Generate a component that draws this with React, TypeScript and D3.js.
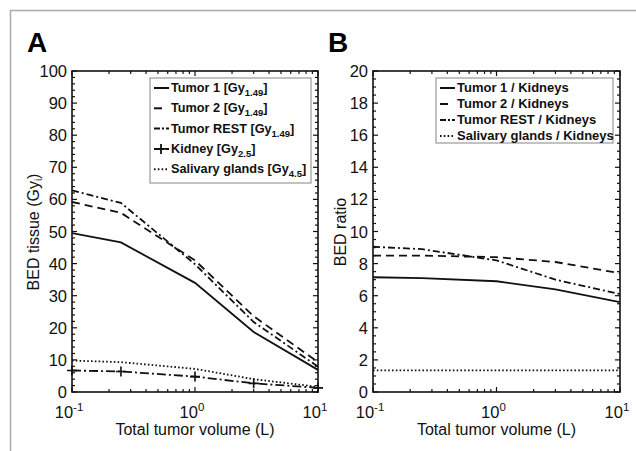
import React from 'react';
import * as d3 from 'd3';

// volumes (L) at which the curves were computed
const volumes = [0.1, 0.25, 1, 3, 10];

// panel A: BED per tissue (Gy_i)
const tumor1Bed = [49.5, 46.6, 34, 18.7, 6.9];
const tumor2Bed = [59.2, 55.8, 41, 23.6, 9.3];
const tumorRestBed = [62.8, 58.9, 39.8, 21.8, 7.9];
const kidneyBed = [6.7, 6.4, 4.8, 2.7, 1.3];
const salivaryBed = [9.8, 9.3, 7.2, 4.0, 1.6];

// panel B: ratio to kidneys
const tumor1Ratio = [7.15, 7.1, 6.9, 6.4, 5.6];
const tumor2Ratio = [8.5, 8.5, 8.4, 8.1, 7.4];
const tumorRestRatio = [9.05, 8.9, 8.2, 7.0, 6.1];
const salivaryRatio = [1.35, 1.35, 1.35, 1.35, 1.35];

const labelsA = ['Tumor 1 [Gy', 'Tumor 2 [Gy', 'Tumor REST [Gy', 'Kidney [Gy', 'Salivary glands [Gy'];
const subsA = ['1.49', '1.49', '1.49', '2.5', '4.5'];
const labelsB = ['Tumor 1 / Kidneys', 'Tumor 2 / Kidneys', 'Tumor REST / Kidneys', 'Salivary glands / Kidneys'];

const FONT = '"Liberation Sans", Arial, Helvetica, sans-serif';

const styles = {
  solid: 'none',
  dashed: '8,5',
  dashdot: '7,3,2,3',
  kidney: '9,3,2,3',
  dotted: '1.6,2.2',
};

type Series = { values: number[]; dash: string; plus?: boolean };

const Panel = ({ left, right, top, bottom, yMax, yStep, yMinor, letter, yLabel, series }: any) => {
  const x = d3.scaleLog().domain([0.1, 10]).range([left, right]);
  const y = d3.scaleLinear().domain([0, yMax]).range([bottom, top]);
  const line = d3.line<number>().x((_, i) => x(volumes[i])).y(d => y(d));

  const xTicks = x.ticks();
  const yMajor = d3.range(0, yMax + 0.001, yStep);
  const yMinorTicks = d3.range(0, yMax + 0.001, yMinor);
  const isMajor = (v: number) => Math.abs(Math.log10(v) - Math.round(Math.log10(v))) < 1e-6;

  return (
    <g fontFamily={FONT}>
      <text x={left - 45} y={52} fontSize={28} fontWeight="bold">{letter}</text>
      <defs>
        <clipPath id={'clip' + letter}>
          <rect x={left} y={top} width={right - left} height={bottom - top} />
        </clipPath>
      </defs>
      {series.map((s: Series, k: number) => (
        <g key={k}>
          <path d={line(s.values) || ''} fill="none" stroke="#111" strokeWidth={1.8}
            strokeDasharray={s.dash} clipPath={`url(#clip${letter})`} />
          {s.plus && s.values.map((v, i) => (
            <path key={i} d={`M${x(volumes[i]) - 5},${y(v)}h10M${x(volumes[i])},${y(v) - 5}v10`}
              stroke="#111" strokeWidth={1.6} />
          ))}
        </g>
      ))}
      {/* axis box */}
      <rect x={left} y={top} width={right - left} height={bottom - top} fill="none" stroke="#111" strokeWidth={1.6} />
      {xTicks.map((t, i) => {
        const len = isMajor(t) ? 5 : 3;
        return (
          <g key={i}>
            <line x1={x(t)} x2={x(t)} y1={bottom} y2={bottom - len} stroke="#111" strokeWidth={1.2} />
            <line x1={x(t)} x2={x(t)} y1={top} y2={top + len} stroke="#111" strokeWidth={1.2} />
          </g>
        );
      })}
      {yMinorTicks.map((t, i) => {
        const major = Math.abs(t / yStep - Math.round(t / yStep)) < 1e-6;
        const len = major ? 5 : 3;
        return (
          <g key={i}>
            <line x1={left} x2={left + len} y1={y(t)} y2={y(t)} stroke="#111" strokeWidth={1.2} />
            <line x1={right} x2={right - len} y1={y(t)} y2={y(t)} stroke="#111" strokeWidth={1.2} />
          </g>
        );
      })}
      {yMajor.map((t, i) => (
        <text key={i} x={left - 5} y={y(t) + 6} fontSize={16.5} textAnchor="end" fill="#111">{d3.format('d')(t)}</text>
      ))}
      {xTicks.filter(isMajor).map((t, i) => (
        <text key={i} x={x(t) - 3} y={418} fontSize={16.5} textAnchor="middle" fill="#111">
          10<tspan fontSize={11.5} dy={-7}>{Math.round(Math.log10(t))}</tspan>
        </text>
      ))}
      <text x={(left + right) / 2} y={435} fontSize={16} textAnchor="middle" fill="#111">Total tumor volume (L)</text>
      {yLabel}
    </g>
  );
};

const Legend = ({ x0, y0, w, h, rows, rowGap, firstBase, entries }: any) => (
  <g fontFamily={FONT}>
    <rect x={x0} y={y0} width={w} height={h} fill="#fff" stroke="#999" strokeWidth={1.2} />
    {entries.map((e: any, i: number) => {
      const base = firstBase + i * rowGap;
      const ly = base - 4;
      return (
        <g key={i}>
          {e.dash === styles.dashed ? (
            <line x1={x0 + 4} x2={x0 + 12} y1={ly} y2={ly} stroke="#111" strokeWidth={2} />
          ) : (
            <line x1={x0 + 4} x2={x0 + 19} y1={ly} y2={ly} stroke="#111" strokeWidth={2}
              strokeDasharray={e.dash === styles.dashdot || e.dash === styles.kidney ? '6,2,2,2' : e.dash} />
          )}
          {e.plus && <path d={`M${x0 + 6},${ly}h10M${x0 + 11},${ly - 5}v10`} stroke="#111" strokeWidth={1.8} />}
          <text x={x0 + 21} y={base} fontSize={rows} fontWeight="bold" fill="#111">
            {e.label}
            {e.sub && <tspan fontSize={rows * 0.75} dy={4}>{e.sub}</tspan>}
            {e.sub && <tspan dy={-4}>]</tspan>}
          </text>
        </g>
      );
    })}
  </g>
);

export default function App() {
  const seriesA: Series[] = [
    { values: tumor1Bed, dash: styles.solid },
    { values: tumor2Bed, dash: styles.dashed },
    { values: tumorRestBed, dash: styles.dashdot },
    { values: kidneyBed, dash: styles.kidney, plus: true },
    { values: salivaryBed, dash: styles.dotted },
  ];
  const seriesB: Series[] = [
    { values: tumor1Ratio, dash: styles.solid },
    { values: tumor2Ratio, dash: styles.dashed },
    { values: tumorRestRatio, dash: styles.dashdot },
    { values: salivaryRatio, dash: styles.dotted },
  ];
  const entriesA = labelsA.map((l, i) => ({ label: l, sub: subsA[i], dash: seriesA[i].dash, plus: seriesA[i].plus }));
  const entriesB = labelsB.map((l, i) => ({ label: l, dash: seriesB[i].dash }));

  return (
    <svg width={636} height={451} style={{ position: 'absolute', left: 0, top: 0, background: '#fff' }}>
      <rect x={0} y={0} width={636} height={451} fill="#fff" />
      <rect x={10.5} y={10.5} width={700} height={500} fill="none" stroke="#aaa" strokeWidth={1.5} />
      <Panel left={72} right={318} top={71} bottom={392} yMax={100} yStep={10} yMinor={2} letter="A"
        series={seriesA}
        yLabel={
          <text transform="translate(39,232) rotate(-90)" fontSize={16} textAnchor="middle" fill="#111">
            BED tissue (Gy<tspan fontSize={10} dy={3}>i</tspan><tspan dy={-3}>)</tspan>
          </text>
        } />
      <Panel left={373} right={620} top={71} bottom={392} yMax={20} yStep={2} yMinor={0.5} letter="B"
        series={seriesB}
        yLabel={
          <text transform="translate(346,232) rotate(-90)" fontSize={16} textAnchor="middle" fill="#111">BED ratio</text>
        } />
      <Legend x0={150} y0={78} w={161} h={105} rows={12.7} rowGap={20.3} firstBase={92} entries={entriesA} />
      <Legend x0={436} y0={78} w={177} h={65} rows={13} rowGap={16} firstBase={92} entries={entriesB} />
    </svg>
  );
}
